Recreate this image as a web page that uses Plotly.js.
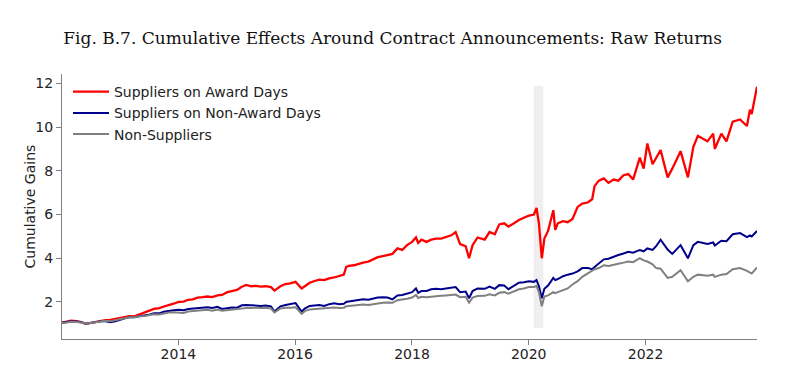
<!DOCTYPE html>
<html><head><meta charset="utf-8">
<script src="https://cdn.plot.ly/plotly-3.0.1.min.js"></script>
<style>html,body{margin:0;padding:0;background:#fff}#chart{width:790px;height:369px}</style>
</head><body><div id="chart"></div>
<script>
const dates = [
'2012-01-04','2012-02-01','2012-03-01','2012-04-02','2012-05-01','2012-06-01','2012-07-02','2012-08-01','2012-09-04','2012-10-01','2012-11-01','2012-12-03',
'2013-01-02','2013-02-01','2013-03-01','2013-04-01','2013-05-01','2013-06-03','2013-07-01','2013-08-01','2013-09-03','2013-10-01','2013-11-01','2013-12-02',
'2014-01-02','2014-02-03','2014-03-03','2014-04-01','2014-05-01','2014-06-02','2014-07-01','2014-08-01','2014-09-02','2014-10-01','2014-11-03','2014-12-01',
'2015-01-02','2015-02-02','2015-03-02','2015-04-01','2015-05-01','2015-06-01','2015-07-01','2015-08-03','2015-08-25','2015-10-01','2015-11-02','2015-12-01',
'2016-01-04','2016-02-11','2016-03-01','2016-04-01','2016-05-02','2016-06-01','2016-07-01','2016-08-01','2016-09-01','2016-10-03','2016-11-01','2016-11-15','2016-12-01',
'2017-01-03','2017-02-01','2017-03-01','2017-04-03','2017-05-01','2017-06-01','2017-07-03','2017-08-01','2017-09-01','2017-10-02','2017-11-01','2017-12-01',
'2018-01-02','2018-01-26','2018-02-09','2018-03-01','2018-04-02','2018-05-01','2018-06-01','2018-07-02','2018-08-01','2018-09-04','2018-10-01','2018-10-29','2018-12-03','2018-12-24',
'2019-01-15','2019-02-15','2019-04-01','2019-05-01','2019-06-03','2019-07-01','2019-08-01','2019-08-27','2019-10-01','2019-11-01','2019-12-02',
'2020-01-02','2020-02-03','2020-02-19','2020-03-05','2020-03-23','2020-04-08','2020-05-01','2020-06-03','2020-06-15','2020-07-01','2020-08-03','2020-09-01','2020-10-01','2020-11-02','2020-12-01',
'2021-01-04','2021-02-01','2021-02-16','2021-03-15','2021-04-15','2021-05-14','2021-06-15','2021-07-15','2021-08-16','2021-09-15','2021-10-15','2021-11-10','2021-11-26','2021-12-20',
'2022-01-12','2022-02-14','2022-03-08','2022-04-05','2022-05-19','2022-06-17','2022-08-08','2022-09-23','2022-10-27','2022-11-24',
'2023-01-23','2023-02-28','2023-03-10','2023-04-20','2023-05-22','2023-06-30','2023-08-15','2023-09-27','2023-10-16','2023-10-27','2023-11-29'
];
const awardDays = [
1.05,1.1,1.14,1.12,1.08,1.0,1.05,1.1,1.15,1.17,1.18,1.22,
1.28,1.32,1.35,1.34,1.42,1.5,1.58,1.68,1.72,1.8,1.86,1.92,
2.0,2.02,2.1,2.12,2.2,2.22,2.25,2.22,2.3,2.32,2.45,2.5,
2.55,2.7,2.78,2.72,2.74,2.7,2.72,2.68,2.52,2.72,2.82,2.85,
2.92,2.62,2.72,2.88,2.96,3.02,3.0,3.08,3.12,3.2,3.25,3.6,3.65,
3.68,3.75,3.8,3.85,3.95,4.05,4.1,4.15,4.2,4.45,4.38,4.6,
4.75,4.95,4.7,4.85,4.75,4.85,4.9,4.9,4.98,5.05,5.2,4.65,4.55,4.0,
4.6,4.95,4.85,5.2,5.1,5.55,5.6,5.45,5.6,5.75,5.85,
5.95,6.0,6.3,5.6,4.0,4.9,5.25,6.2,5.3,5.6,5.7,5.65,5.8,6.35,6.5,
6.55,6.7,7.3,7.55,7.65,7.45,7.6,7.55,7.8,7.85,7.6,8.3,8.6,8.1,
9.25,8.3,8.6,8.95,7.7,8.1,8.9,7.7,9.1,9.6,
9.35,9.7,9.0,9.7,9.35,10.25,10.35,10.05,10.8,10.6,11.85
];
const nonAwardDays = [
1.05,1.1,1.12,1.11,1.08,1.0,1.04,1.08,1.12,1.12,1.07,1.12,
1.2,1.25,1.3,1.3,1.35,1.38,1.42,1.48,1.48,1.55,1.6,1.62,
1.64,1.62,1.68,1.7,1.72,1.74,1.76,1.72,1.78,1.68,1.72,1.75,
1.74,1.85,1.86,1.84,1.83,1.82,1.84,1.8,1.56,1.8,1.86,1.9,
1.95,1.56,1.7,1.82,1.85,1.86,1.82,1.9,1.94,1.9,1.92,2.0,2.02,
2.05,2.08,2.12,2.1,2.15,2.2,2.22,2.2,2.12,2.3,2.32,2.38,
2.45,2.62,2.42,2.5,2.5,2.58,2.6,2.58,2.62,2.66,2.68,2.45,2.48,2.17,
2.5,2.62,2.6,2.7,2.6,2.77,2.75,2.58,2.72,2.88,2.9,
2.95,2.92,3.0,2.72,2.17,2.6,2.75,3.1,3.0,3.05,3.18,3.25,3.3,3.4,3.55,
3.55,3.5,3.6,3.75,3.95,3.98,4.08,4.15,4.22,4.3,4.25,4.32,4.38,4.32,
4.45,4.38,4.55,4.85,4.4,4.2,4.6,4.0,4.6,4.75,
4.65,4.72,4.58,4.8,4.78,5.1,5.15,4.97,5.05,5.0,5.25
];
const nonSuppliers = [
1.03,1.07,1.1,1.08,1.06,1.0,1.04,1.08,1.13,1.14,1.12,1.16,
1.22,1.26,1.3,1.3,1.35,1.36,1.4,1.44,1.43,1.48,1.52,1.53,
1.52,1.5,1.56,1.58,1.6,1.62,1.64,1.6,1.65,1.6,1.63,1.66,
1.66,1.7,1.72,1.72,1.74,1.72,1.73,1.7,1.52,1.7,1.74,1.74,
1.76,1.46,1.58,1.66,1.68,1.7,1.7,1.73,1.75,1.72,1.74,1.8,1.82,
1.84,1.86,1.88,1.86,1.9,1.94,1.96,1.98,1.96,2.08,2.1,2.15,
2.2,2.32,2.18,2.24,2.22,2.25,2.28,2.28,2.3,2.33,2.34,2.22,2.24,1.97,
2.2,2.27,2.28,2.35,2.3,2.42,2.45,2.38,2.5,2.58,2.62,
2.68,2.68,2.74,2.45,1.8,2.25,2.3,2.45,2.4,2.45,2.55,2.62,2.8,2.95,3.15,
3.3,3.45,3.5,3.55,3.68,3.65,3.72,3.75,3.8,3.85,3.82,3.95,4.0,3.9,
3.85,3.72,3.55,3.52,3.1,3.15,3.45,2.95,3.15,3.25,
3.2,3.25,3.15,3.25,3.28,3.5,3.55,3.42,3.35,3.3,3.58
];
const seriesNames = ['Suppliers on Award Days','Suppliers on Non-Award Days','Non-Suppliers'];
const seriesColors = ['#ff0000','#00008b','#808080'];
const yTicks = [2,4,6,8,10,12];
const shadeStart = '2020-02-01', shadeEnd = '2020-04-01';
const shadeLow = 0.81, shadeHigh = 11.88;

if (dates.length !== awardDays.length || dates.length !== nonAwardDays.length || dates.length !== nonSuppliers.length) {
  console.error('length mismatch', dates.length, awardDays.length, nonAwardDays.length, nonSuppliers.length);
}

const values = [awardDays, nonAwardDays, nonSuppliers];
const traces = values.map((v, i) => ({
  x: dates, y: v, type: 'scatter', mode: 'lines', name: seriesNames[i],
  line: {color: seriesColors[i], width: i === 0 ? 2.3 : 2}
}));

const font = 'DejaVu Sans, sans-serif';
const layout = {
  width: 790, height: 369,
  margin: {l: 62, r: 33, t: 74, b: 30},
  paper_bgcolor: '#fff', plot_bgcolor: '#fff',
  showlegend: true,
  title: {text: 'Fig. B.7. Cumulative Effects Around Contract Announcements: Raw Returns',
    font: {family: 'DejaVu Serif, serif', size: 17, color: '#111'},
    xref: 'container', x: 0.497, xanchor: 'center', yref: 'container', y: 1 - 38/369, yanchor: 'middle'},
  legend: {x: 0.0086, y: 0.992, xanchor: 'left', yanchor: 'top', bgcolor: 'rgba(0,0,0,0)',
    font: {family: font, size: 14, color: '#222'}, itemwidth: 36},
  xaxis: {type: 'date', range: ['2012-01-04', '2023-11-29'], tickformat: '%Y', dtick: 'M24', tick0: '2014-01-01',
    ticks: 'outside', ticklen: 5, tickcolor: '#808080', showgrid: false, zeroline: false, ticklabelstandoff: -3,
    showline: true, linecolor: '#808080', linewidth: 1, tickfont: {family: font, size: 14, color: '#222'}},
  yaxis: {range: [0.306, 12.43], tickvals: yTicks, ticks: 'outside', ticklen: 5, tickcolor: '#808080',
    showgrid: false, zeroline: false, showline: true, linecolor: '#808080', linewidth: 1,
    tickfont: {family: font, size: 14, color: '#222'}},
  annotations: [{text: 'Cumulative Gains', xref: 'paper', yref: 'paper', x: (29 - 62) / 695, y: 0.5,
    xanchor: 'center', yanchor: 'middle', textangle: -90, showarrow: false,
    font: {family: font, size: 14, color: '#222'}}],
  shapes: [{type: 'rect', xref: 'x', yref: 'y', x0: shadeStart, x1: shadeEnd, y0: shadeLow, y1: shadeHigh,
    fillcolor: '#efefef', line: {width: 0}, layer: 'below'}]
};
Plotly.newPlot('chart', traces, layout, {displayModeBar: false, staticPlot: true});
</script>
</body></html>
